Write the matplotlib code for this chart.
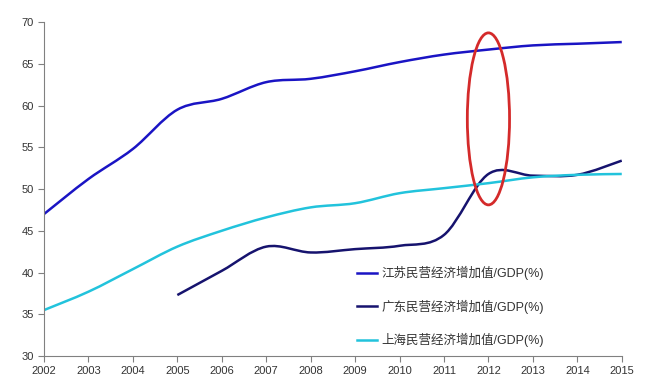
import matplotlib.pyplot as plt
from matplotlib.path import Path
from matplotlib.patches import PathPatch, Ellipse
from matplotlib.lines import Line2D

plt.rcParams['font.family'] = ['Liberation Sans', 'Noto Sans CJK SC']

years = list(range(2002, 2016))
jiangsu = [47.0, 51.2, 54.8, 59.5, 60.8, 62.8, 63.2, 64.1, 65.2, 66.1, 66.7, 67.2, 67.4, 67.6]
gd_years = list(range(2005, 2016))
guangdong = [37.3, 40.2, 43.1, 42.4, 42.8, 43.2, 44.5, 51.8, 51.6, 51.7, 53.4]
shanghai = [35.5, 37.7, 40.4, 43.1, 45.0, 46.6, 47.8, 48.3, 49.5, 50.1, 50.7, 51.4, 51.7, 51.8]

labels = ['江苏民营经济增加值/GDP(%)', '广东民营经济增加值/GDP(%)', '上海民营经济增加值/GDP(%)']
colors = ['#1a14c4', '#16136e', '#22c3dc']


def smooth_path(xs, ys):
    # Excel-like smoothed line: cubic bezier segments through each point
    pts = list(zip(xs, ys))
    verts = [pts[0]]
    codes = [Path.MOVETO]
    n = len(pts)
    for i in range(n - 1):
        p0 = pts[i - 1] if i > 0 else pts[i]
        p1, p2 = pts[i], pts[i + 1]
        p3 = pts[i + 2] if i + 2 < n else pts[i + 1]
        c1 = (p1[0] + (p2[0] - p0[0]) / 6, p1[1] + (p2[1] - p0[1]) / 6)
        c2 = (p2[0] - (p3[0] - p1[0]) / 6, p2[1] - (p3[1] - p1[1]) / 6)
        verts += [c1, c2, p2]
        codes += [Path.CURVE4] * 3
    return Path(verts, codes)


fig = plt.figure(figsize=(6.47, 3.83), dpi=100)
ax = fig.add_axes([0.068, 0.0705, 0.893, 0.872])

for xs, ys, c in [(years, jiangsu, colors[0]), (gd_years, guangdong, colors[1]), (years, shanghai, colors[2])]:
    ax.add_patch(PathPatch(smooth_path(xs, ys), facecolor='none', edgecolor=c, lw=1.8, capstyle='butt'))

ax.add_patch(Ellipse((2012, 58.4), 0.95, 20.6, facecolor='none', edgecolor='#d42a2a', lw=2))

ax.set_xlim(2002, 2015)
ax.set_ylim(30, 70)
ax.set_xticks(years)
ax.set_yticks(range(30, 71, 5))
for s in ['top', 'right']:
    ax.spines[s].set_visible(False)
for s in ['left', 'bottom']:
    ax.spines[s].set_color('#808080')
    ax.spines[s].set_linewidth(0.8)
ax.tick_params(labelsize=8, colors='#333333', length=4, width=0.8)
ax.tick_params(axis='both', color='#808080')

handles = [Line2D([], [], color=c, lw=1.8) for c in colors]
ax.legend(handles, labels, loc='upper left', bbox_to_anchor=(0.535, 0.335), bbox_transform=fig.transFigure,
          frameon=False, fontsize=9, handlelength=1.6, handletextpad=0.3, labelspacing=1.55,
          labelcolor='#333333')

fig.savefig('out.png', dpi=100)
